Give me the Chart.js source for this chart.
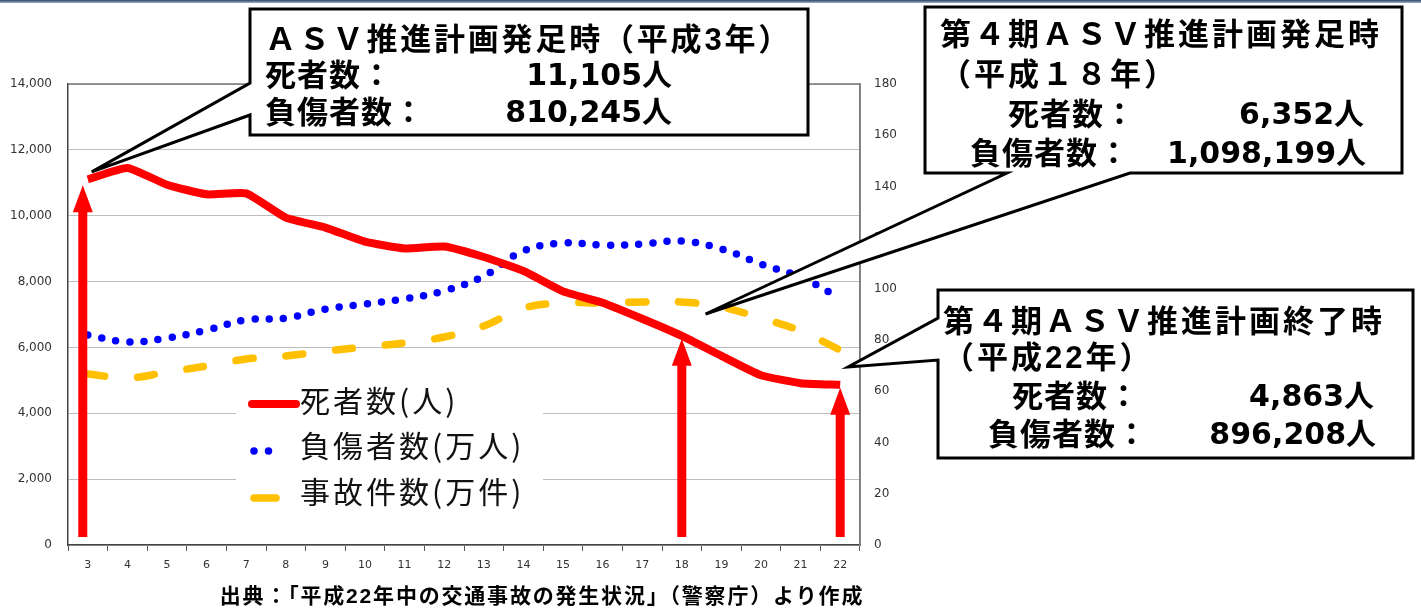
<!DOCTYPE html>
<html>
<head>
<meta charset="utf-8">
<script src="https://cdn.jsdelivr.net/npm/chart.js@4.4.1/dist/chart.umd.min.js"></script>
<style>
    html, body { margin: 0; padding: 0; background: #fff; }
    #wrap { position: relative; width: 1421px; height: 610px; overflow: hidden; }
    #topbar { position: absolute; left: 0; top: 0; width: 1421px; height: 3px; background: linear-gradient(#2a4668, #9fb2c8); }
</style>
</head>
<body>
<div id="wrap">
    <div id="topbar"></div>
    <canvas id="asvChart" width="1421" height="610"></canvas>
</div>
<script>
// Data (平成 years)
const YEARS = ['3', '4', '5', '6', '7', '8', '9', '10', '11', '12', '13', '14', '15', '16', '17', '18', '19', '20', '21', '22'];
const DEATHS = [11105, 11451, 10942, 10649, 10679, 9942, 9640, 9211, 9006, 9066, 8747, 8326, 7702, 7358, 6871, 6352, 5744, 5155, 4914, 4863];
const INJURED = [82.0, 79.3, 80.8, 83.9, 87.9, 88.6, 92.1, 94.1, 96.1, 99.2, 105.0, 114.8, 117.9, 117.1, 117.5, 118.7, 115.6, 109.7, 104.6, 96.4];
const ACCIDENTS = [66.8, 65.2, 67.5, 69.9, 72.6, 73.8, 75.7, 77.3, 78.9, 81.2, 85.5, 92.5, 94.5, 94.5, 94.9, 94.9, 92.9, 88.6, 83.6, 76.1];
const LEFT_MAX = 14000;
const LEFT_STEP = 2000;
const RIGHT_MAX = 180;
const RIGHT_STEP = 20;

const SERIES_LABELS = ['死者数(人)', '負傷者数(万人)', '事故件数(万件)'];
const ARROW_INDEXES = [0, 15, 19];
const SOURCE_TEXT = '出典：「平成22年中の交通事故の発生状況」（警察庁）より作成';

// Callout boxes: text lines + where the pointer goes (in data terms)
const CALLOUTS = [
    {
        box: [250, 9, 808, 135],
        base: { side: 'left', a: 83, b: 115 },
        anchor: { index: 0.1, value: 11330 },
        lines: [
            { text: 'ＡＳＶ推進計画発足時（平成3年）', x: 265, y: 41, sp: 2.8 },
            { text: '死者数：', x: 265, y: 77, sp: 1 },
            { text: '11,105人', x: 672, y: 77, num: true },
            { text: '負傷者数：', x: 265, y: 114, sp: 1 },
            { text: '810,245人', x: 672, y: 114, num: true }
        ]
    },
    {
        box: [925, 7, 1402, 173],
        base: { side: 'bottom', a: 1007, b: 1130 },
        anchor: { index: 15.6, value: 7015 },
        lines: [
            { text: '第４期ＡＳＶ推進計画発足時', x: 940, y: 36, sp: 3 },
            { text: '（平成１８年）', x: 940, y: 76, sp: 3 },
            { text: '死者数：', x: 1008, y: 116, sp: 1 },
            { text: '6,352人', x: 1364, y: 116, num: true },
            { text: '負傷者数：', x: 970, y: 155, sp: 1 },
            { text: '1,098,199人', x: 1366, y: 155, num: true }
        ]
    },
    {
        box: [938, 290, 1413, 458],
        base: { side: 'left', a: 318, b: 360 },
        anchor: { index: 19.2, value: 5406 },
        lines: [
            { text: '第４期ＡＳＶ推進計画終了時', x: 943, y: 323, sp: 3 },
            { text: '（平成22年）', x: 943, y: 359, sp: 3 },
            { text: '死者数：', x: 1012, y: 398, sp: 1 },
            { text: '4,863人', x: 1374, y: 398, num: true },
            { text: '負傷者数：', x: 988, y: 436, sp: 1 },
            { text: '896,208人', x: 1376, y: 436, num: true }
        ]
    }
];

const BOX_FONT = 'bold 31px "Liberation Sans", "Noto Sans CJK JP", sans-serif';
const NUM_FONT = 'bold 30px "DejaVu Sans", "Noto Sans CJK JP", sans-serif';
const LEGEND_FONT = '30px "Noto Sans CJK JP", sans-serif';

// Plot frame
const framePlugin = {
    id: 'frame',
    beforeDatasetsDraw(chart) {
        const { ctx, chartArea: { left, right, top, bottom } } = chart;
        ctx.save();
        ctx.strokeStyle = '#777';
        ctx.lineWidth = 1.5;
        ctx.beginPath();
        ctx.moveTo(left, top);
        ctx.lineTo(right, top);
        ctx.lineTo(right, bottom);
        ctx.stroke();
        ctx.restore();
    }
};

// Legend drawn inside the plot with a white box
const innerLegend = {
    id: 'innerLegend',
    beforeDatasetsDraw(chart) {
        const { ctx } = chart;
        ctx.save();
        ctx.fillStyle = '#fff';
        ctx.fillRect(236, 374, 307, 150);
        const rows = [
            { sy: 404, ty: 401, x1: 252, x2: 296 },
            { sy: 451, ty: 446, x1: 254, x2: 283 },
            { sy: 498, ty: 492, x1: 254, x2: 276 }
        ];
        chart.data.datasets.forEach((ds, i) => {
            const r = rows[i];
            ctx.strokeStyle = ds.borderColor;
            ctx.lineWidth = ds.borderWidth;
            ctx.lineCap = 'round';
            ctx.setLineDash(i === 1 ? [0, 14.5] : []);
            ctx.beginPath();
            ctx.moveTo(r.x1, r.sy);
            ctx.lineTo(r.x2, r.sy);
            ctx.stroke();
            ctx.setLineDash([]);
            ctx.fillStyle = '#111';
            ctx.font = LEGEND_FONT;
            ctx.letterSpacing = '3px';
            ctx.textBaseline = 'middle';
            ctx.textAlign = 'left';
            ctx.fillText(ds.label, 300, r.ty);
            ctx.letterSpacing = '0px';
        });
        ctx.restore();
    }
};

// Red arrows pointing at the death counts, callouts and source
const annotations = {
    id: 'annotations',
    afterDraw(chart) {
        const { ctx, chartArea, scales: { x, y } } = chart;
        ctx.save();

        ctx.fillStyle = '#ff0000';
        ARROW_INDEXES.forEach((i, n) => {
            const cx = x.getPixelForValue(i) - (n === 0 ? 5 : 0);
            const tip = y.getPixelForValue(DEATHS[i]) + (n === 0 ? 6 : 3);
            const base = chartArea.bottom - 8;
            const headLen = 27, headW = 10, shaftW = 4.5;
            ctx.beginPath();
            ctx.moveTo(cx, tip);
            ctx.lineTo(cx + headW, tip + headLen);
            ctx.lineTo(cx + shaftW, tip + headLen);
            ctx.lineTo(cx + shaftW, base);
            ctx.lineTo(cx - shaftW, base);
            ctx.lineTo(cx - shaftW, tip + headLen);
            ctx.lineTo(cx - headW, tip + headLen);
            ctx.closePath();
            ctx.fill();
        });

        CALLOUTS.forEach(c => {
            const [l, t, r, b] = c.box;
            const tx = x.getPixelForValue(c.anchor.index);
            const ty = y.getPixelForValue(c.anchor.value);
            ctx.beginPath();
            if (c.base.side === 'left') {
                ctx.moveTo(l, t);
                ctx.lineTo(r, t);
                ctx.lineTo(r, b);
                ctx.lineTo(l, b);
                ctx.lineTo(l, c.base.b);
                ctx.lineTo(tx, ty);
                ctx.lineTo(l, c.base.a);
            } else {
                ctx.moveTo(l, t);
                ctx.lineTo(r, t);
                ctx.lineTo(r, b);
                ctx.lineTo(c.base.b, b);
                ctx.lineTo(tx, ty);
                ctx.lineTo(c.base.a, b);
                ctx.lineTo(l, b);
            }
            ctx.closePath();
            ctx.fillStyle = '#fff';
            ctx.fill();
            ctx.strokeStyle = '#000';
            ctx.lineWidth = 3;
            ctx.lineJoin = 'miter';
            ctx.stroke();

            ctx.fillStyle = '#000';
            ctx.textBaseline = 'middle';
            c.lines.forEach(line => {
                if (line.num) {
                    ctx.font = NUM_FONT;
                    ctx.letterSpacing = '0px';
                    ctx.textAlign = 'right';
                } else {
                    ctx.font = BOX_FONT;
                    ctx.letterSpacing = line.sp + 'px';
                    ctx.textAlign = 'left';
                }
                ctx.fillText(line.text, line.x, line.y);
            });
            ctx.letterSpacing = '0px';
        });

        ctx.fillStyle = '#000';
        ctx.font = 'bold 21px "Liberation Sans", "Noto Sans CJK JP", sans-serif';
        ctx.letterSpacing = '1.8px';
        ctx.textAlign = 'center';
        ctx.textBaseline = 'middle';
        ctx.fillText(SOURCE_TEXT, 542, 597);
        ctx.letterSpacing = '0px';
        ctx.restore();
    }
};

const ctx = document.getElementById('asvChart').getContext('2d');

new Chart(ctx, {
    type: 'line',
    data: {
        labels: YEARS,
        datasets: [
            {
                label: SERIES_LABELS[0],
                data: DEATHS,
                yAxisID: 'y',
                borderColor: '#ff0000',
                borderWidth: 8,
                tension: 0.15,
                pointRadius: 0,
                borderJoinStyle: 'round',
                borderCapStyle: 'butt'
            },
            {
                label: SERIES_LABELS[1],
                data: INJURED,
                yAxisID: 'y1',
                borderColor: '#0000ff',
                borderWidth: 7.5,
                borderDash: [0, 14.2],
                borderCapStyle: 'round',
                tension: 0.4,
                pointRadius: 0
            },
            {
                label: SERIES_LABELS[2],
                data: ACCIDENTS,
                yAxisID: 'y1',
                borderColor: '#ffc000',
                borderWidth: 7.5,
                borderDash: [17, 33],
                borderCapStyle: 'round',
                tension: 0.4,
                pointRadius: 0
            }
        ]
    },
    options: {
        responsive: false,
        animation: false,
        layout: { padding: { top: 84, left: 0, right: 0, bottom: 0 } },
        plugins: {
            legend: { display: false },
            tooltip: { enabled: false }
        },
        scales: {
            x: {
                offset: true,
                afterFit: scale => { scale.height = 65; },
                grid: {
                    offset: true,
                    drawOnChartArea: false,
                    drawTicks: true,
                    tickLength: 6,
                    color: '#555'
                },
                border: { color: '#444', width: 1.5 },
                ticks: {
                    color: '#333',
                    padding: 8,
                    maxRotation: 0,
                    autoSkip: false,
                    font: { family: '"DejaVu Sans", Verdana, sans-serif', size: 11 }
                }
            },
            y: {
                position: 'left',
                min: 0,
                max: LEFT_MAX,
                afterFit: scale => { scale.width = 68; },
                grid: {
                    color: '#bdbdbd',
                    lineWidth: 1,
                    drawTicks: false
                },
                border: { color: '#444', width: 1.5 },
                ticks: {
                    stepSize: LEFT_STEP,
                    padding: 16,
                    color: '#333',
                    font: { family: '"DejaVu Sans", Verdana, sans-serif', size: 12 },
                    callback: v => v.toLocaleString('en-US')
                }
            },
            y1: {
                position: 'right',
                min: 0,
                max: RIGHT_MAX,
                afterFit: scale => { scale.width = 1421 - 860; },
                grid: { drawOnChartArea: false, drawTicks: false },
                border: { color: '#888', width: 1.5 },
                ticks: {
                    stepSize: RIGHT_STEP,
                    padding: 14,
                    color: '#333',
                    font: { family: '"DejaVu Sans", Verdana, sans-serif', size: 12 }
                }
            }
        }
    },
    plugins: [framePlugin, innerLegend, annotations]
});
</script>
</body>
</html>
